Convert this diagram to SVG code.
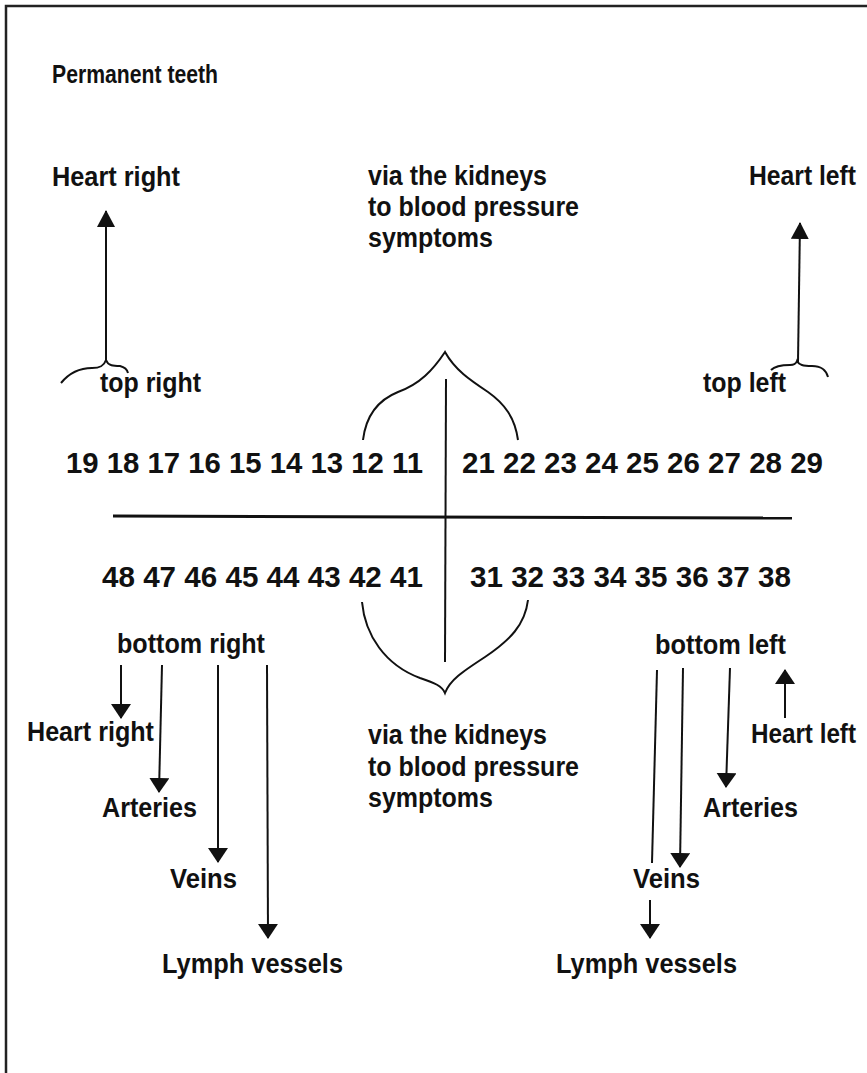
<svg xmlns="http://www.w3.org/2000/svg" width="867" height="1073" viewBox="0 0 867 1073">
<style>
.t{font-family:"Liberation Sans",Arial,Helvetica,sans-serif;font-weight:bold;font-size:27px;fill:#111}
.n{font-family:"Liberation Sans",Arial,Helvetica,sans-serif;font-weight:bold;font-size:30px;fill:#111}
.h{font-family:"Liberation Sans",Arial,Helvetica,sans-serif;font-weight:bold;font-size:26px;fill:#111}
.ln{fill:none;stroke:#111;stroke-width:2}
.br{fill:none;stroke:#111;stroke-width:2;stroke-linejoin:miter}
</style>
<defs>
<marker id="ah" markerUnits="userSpaceOnUse" viewBox="0 0 15 20" markerWidth="15" markerHeight="20" refX="14" refY="10" orient="auto">
<path d="M0,0 L15,10 L0,20 z" fill="#111"/>
</marker>
<marker id="au" markerUnits="userSpaceOnUse" viewBox="0 0 17 18" markerWidth="17" markerHeight="18" refX="16" refY="9" orient="auto">
<path d="M0,0 L17,9 L0,18 z" fill="#111"/>
</marker>
</defs>
<rect width="867" height="1073" fill="#fff"/>
<path d="M6,1073 V6 H867" fill="none" stroke="#222" stroke-width="2.5"/>

<g id="title"><text class="h" x="52" y="83" textLength="166" lengthAdjust="spacingAndGlyphs">Permanent teeth</text></g>
<g id="heart-right-top"><text class="t" x="52" y="186" textLength="128" lengthAdjust="spacingAndGlyphs">Heart right</text></g>
<g id="kidneys-top"><text class="t" x="368" y="185" textLength="179" lengthAdjust="spacingAndGlyphs">via the kidneys</text><text class="t" x="368" y="216" textLength="211" lengthAdjust="spacingAndGlyphs">to blood pressure</text><text class="t" x="368" y="247" textLength="125" lengthAdjust="spacingAndGlyphs">symptoms</text></g>
<g id="heart-left-top"><text class="t" x="749" y="185" textLength="107" lengthAdjust="spacingAndGlyphs">Heart left</text></g>
<g id="top-right"><text class="t" x="100" y="392" textLength="101" lengthAdjust="spacingAndGlyphs">top right</text></g>
<g id="top-left"><text class="t" x="703" y="392" textLength="83" lengthAdjust="spacingAndGlyphs">top left</text></g>

<g id="upper-right-teeth"><text class="n" x="66" y="473" textLength="357" lengthAdjust="spacingAndGlyphs">19 18 17 16 15 14 13 12 11</text></g>
<g id="upper-left-teeth"><text class="n" x="462" y="473" textLength="361" lengthAdjust="spacingAndGlyphs">21 22 23 24 25 26 27 28 29</text></g>
<g id="lower-right-teeth"><text class="n" x="102" y="587" textLength="321" lengthAdjust="spacingAndGlyphs">48 47 46 45 44 43 42 41</text></g>
<g id="lower-left-teeth"><text class="n" x="470" y="587" textLength="321" lengthAdjust="spacingAndGlyphs">31 32 33 34 35 36 37 38</text></g>

<g id="bottom-right"><text class="t" x="117" y="653" textLength="148" lengthAdjust="spacingAndGlyphs">bottom right</text></g>
<g id="heart-right-bottom"><text class="t" x="27" y="741" textLength="127" lengthAdjust="spacingAndGlyphs">Heart right</text></g>
<g id="arteries-right"><text class="t" x="102" y="817" textLength="95" lengthAdjust="spacingAndGlyphs">Arteries</text></g>
<g id="veins-right"><text class="t" x="170" y="888" textLength="67" lengthAdjust="spacingAndGlyphs">Veins</text></g>
<g id="lymph-right"><text class="t" x="162" y="973" textLength="181" lengthAdjust="spacingAndGlyphs">Lymph vessels</text></g>

<g id="bottom-left"><text class="t" x="655" y="654" textLength="131" lengthAdjust="spacingAndGlyphs">bottom left</text></g>
<g id="heart-left-bottom"><text class="t" x="751" y="743" textLength="105" lengthAdjust="spacingAndGlyphs">Heart left</text></g>
<g id="arteries-left"><text class="t" x="703" y="817" textLength="95" lengthAdjust="spacingAndGlyphs">Arteries</text></g>
<g id="veins-left"><text class="t" x="633" y="888" textLength="67" lengthAdjust="spacingAndGlyphs">Veins</text></g>
<g id="lymph-left"><text class="t" x="556" y="973" textLength="181" lengthAdjust="spacingAndGlyphs">Lymph vessels</text></g>

<g id="kidneys-bottom"><text class="t" x="368" y="744" textLength="179" lengthAdjust="spacingAndGlyphs">via the kidneys</text><text class="t" x="368" y="776" textLength="211" lengthAdjust="spacingAndGlyphs">to blood pressure</text><text class="t" x="368" y="807" textLength="125" lengthAdjust="spacingAndGlyphs">symptoms</text></g>

<g id="connectors">
<line class="ln" x1="106" y1="360" x2="106" y2="211" marker-end="url(#au)"/>
<line class="ln" x1="798" y1="362" x2="800" y2="223" marker-end="url(#au)"/>
<path class="br" d="M61,383 C70,372 80,368 92,368 C100,368 104,366 106,360 C108,366 114,366 120,366 C124,367 127,369 128,373"/>
<path class="br" d="M771,370 C775,366 782,365 790,365 C794,365 796,364 797,361 C799,365 803,366 812,366 C822,366 826,370 828,377"/>
<path class="br" d="M363,440 C366,415 378,400 398,392 C420,384 433,370 445,352 C455,370 470,380 488,392 C505,404 515,418 518,440"/>
<path class="br" d="M362,602 C365,635 385,665 420,678 C435,683 442,686 445,693 C450,680 462,672 485,657 C510,640 525,625 528,600"/>
<line class="ln" x1="446" y1="379" x2="445" y2="662"/>
<line x1="113" y1="516" x2="792" y2="518" stroke="#111" stroke-width="3"/>

<line class="ln" x1="121" y1="665" x2="121" y2="718" marker-end="url(#ah)"/>
<line class="ln" x1="162" y1="665" x2="159" y2="792" marker-end="url(#ah)"/>
<line class="ln" x1="218" y1="665" x2="218" y2="862" marker-end="url(#ah)"/>
<line class="ln" x1="267" y1="665" x2="268" y2="938" marker-end="url(#ah)"/>

<line class="ln" x1="657" y1="670" x2="652" y2="863"/>
<line class="ln" x1="683" y1="668" x2="680" y2="867" marker-end="url(#ah)"/>
<line class="ln" x1="730" y1="668" x2="726" y2="787" marker-end="url(#ah)"/>
<line class="ln" x1="785" y1="718" x2="785" y2="670" marker-end="url(#ah)"/>
<line class="ln" x1="650" y1="900" x2="650" y2="938" marker-end="url(#ah)"/>
</g>
</svg>
